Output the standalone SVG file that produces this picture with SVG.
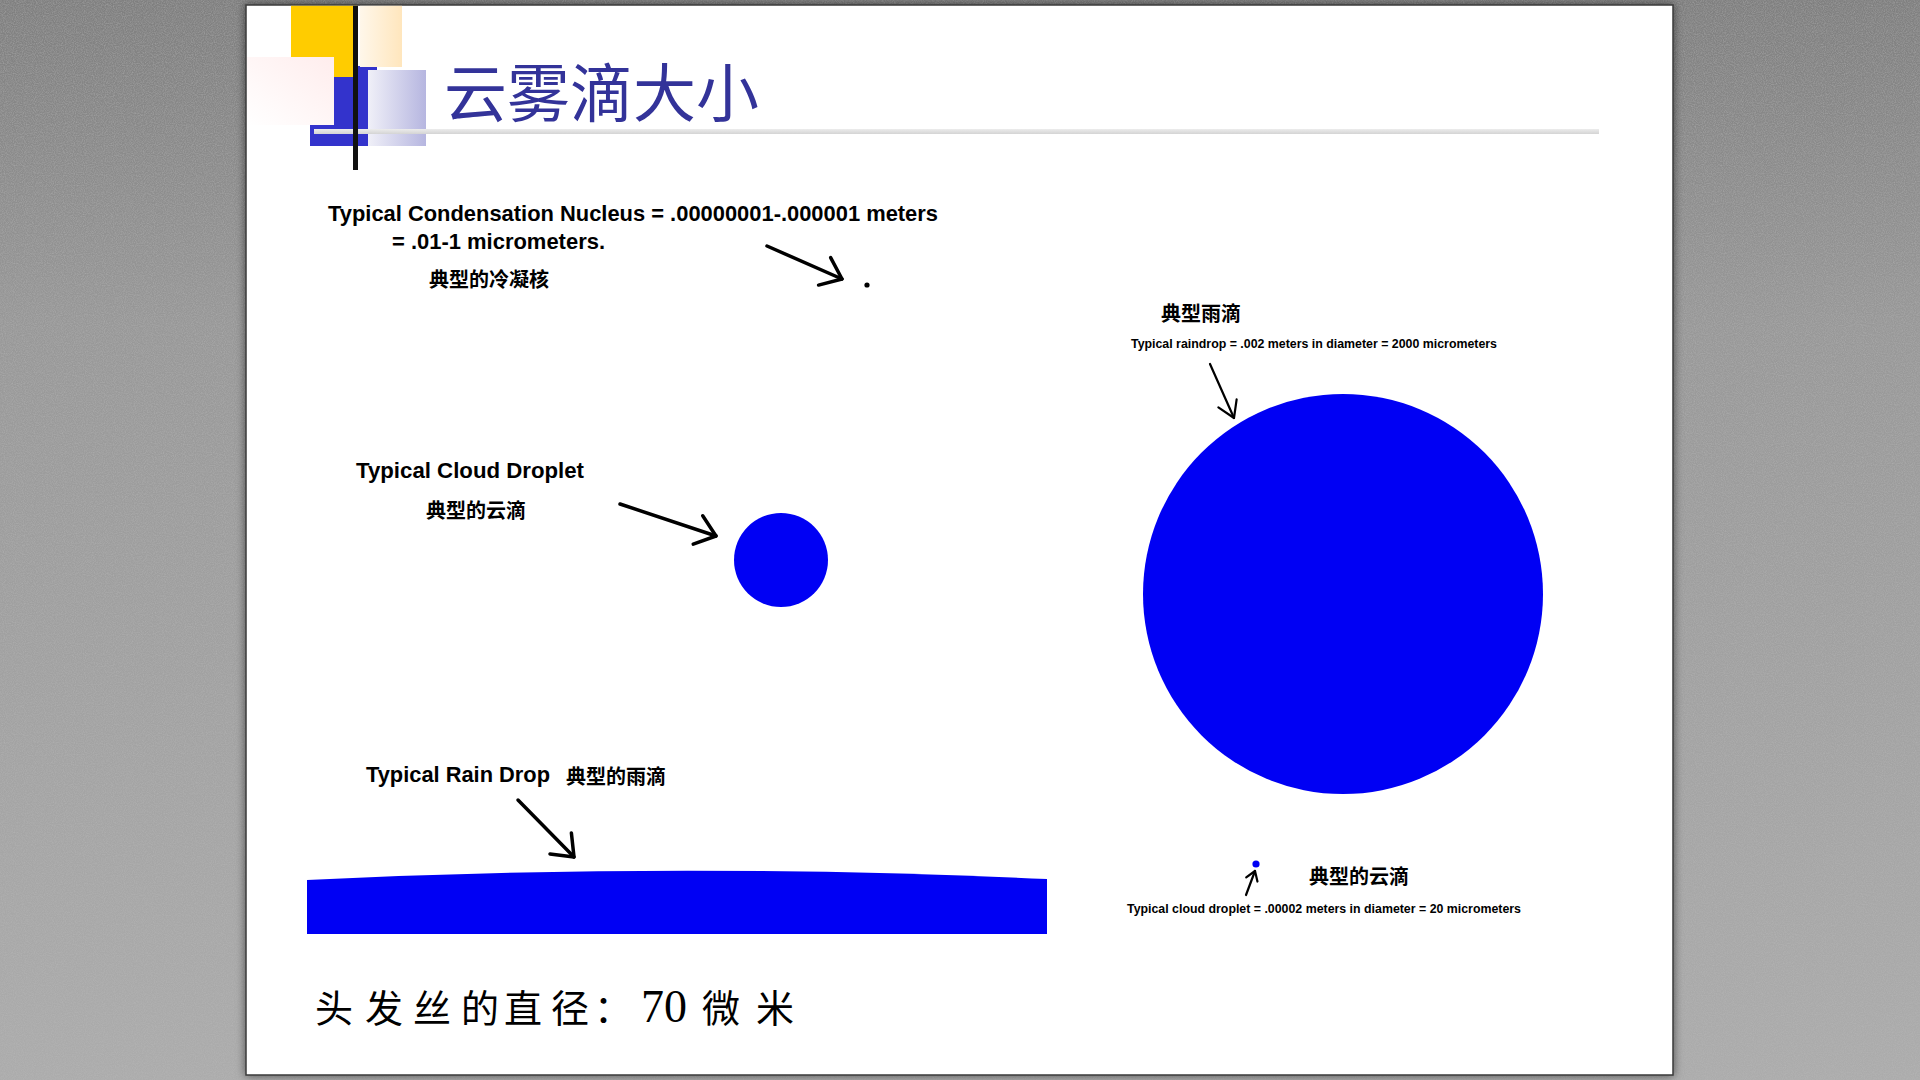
<svg xmlns="http://www.w3.org/2000/svg" width="1920" height="1080" viewBox="0 0 1920 1080">
  <defs>
    <linearGradient id="bg" x1="0" y1="0" x2="0" y2="1">
      <stop offset="0" stop-color="#7f7f7f"/>
      <stop offset="0.3" stop-color="#989898"/>
      <stop offset="1" stop-color="#acacac"/>
    </linearGradient>
    <linearGradient id="peach" x1="0" y1="0" x2="1" y2="0">
      <stop offset="0" stop-color="#fff7ea"/>
      <stop offset="1" stop-color="#ffe6bd"/>
    </linearGradient>
    <linearGradient id="pink" x1="1" y1="0" x2="0" y2="1">
      <stop offset="0" stop-color="#ffeded"/>
      <stop offset="1" stop-color="#ffffff"/>
    </linearGradient>
    <linearGradient id="lavender" x1="0" y1="0" x2="1" y2="0">
      <stop offset="0" stop-color="#f0f0f8"/>
      <stop offset="1" stop-color="#b6b6e0"/>
    </linearGradient>
    <linearGradient id="rule" x1="0" y1="0" x2="0" y2="1">
      <stop offset="0" stop-color="#ececec"/>
      <stop offset="1" stop-color="#d4d4d4"/>
    </linearGradient>
    <filter id="shadow" x="-5%" y="-5%" width="110%" height="110%">
      <feDropShadow dx="0" dy="0" stdDeviation="5" flood-color="#000" flood-opacity="0.55"/>
    </filter>
    <!-- fine grain for the backdrop cloth -->
    <filter id="grain" x="0" y="0" width="100%" height="100%">
      <feTurbulence type="fractalNoise" baseFrequency="0.9" numOctaves="2" seed="3" result="n"/>
      <feColorMatrix in="n" type="matrix" values="0 0 0 0 0.5  0 0 0 0 0.5  0 0 0 0 0.5  0 0 0 1.6 -0.55"/>
    </filter>
    <marker id="head-bold" markerUnits="userSpaceOnUse" orient="auto" refX="0" refY="0" markerWidth="30" markerHeight="40" overflow="visible">
      <path d="M-19,-15 L0,0 L-19,15" fill="none" stroke="#000" stroke-width="3.5" stroke-linecap="round" stroke-linejoin="round"/>
    </marker>
    <marker id="head-thin" markerUnits="userSpaceOnUse" orient="auto" refX="0" refY="0" markerWidth="30" markerHeight="30" overflow="visible">
      <path d="M-16,-10 L0,0 L-16,10" fill="none" stroke="#000" stroke-width="2.2" stroke-linecap="round" stroke-linejoin="round"/>
    </marker>
    <marker id="head-tiny" markerUnits="userSpaceOnUse" orient="auto" refX="0" refY="0" markerWidth="20" markerHeight="20" overflow="visible">
      <path d="M-9,-6 L0,0 L-9,6" fill="none" stroke="#000" stroke-width="2.2" stroke-linecap="round" stroke-linejoin="round"/>
    </marker>
    <style>
      .en { font-family: "Liberation Sans", Arial, sans-serif; font-weight: bold; fill: #000; }
      .cn { font-family: "Noto Sans CJK SC", sans-serif; font-weight: bold; font-size: 20px; fill: #000; }
      .drop { fill: #0000f4; }
      .arrow { fill: none; stroke: #000; stroke-linecap: round; }
      .bold { stroke-width: 3.5; marker-end: url(#head-bold); }
      .thin { stroke-width: 2.2; }
    </style>
  </defs>

  <!-- backdrop and slide page -->
  <rect x="0" y="0" width="1920" height="1080" fill="url(#bg)"/>
  <rect x="0" y="0" width="1920" height="1080" filter="url(#grain)" opacity="0.5"/>
  <rect x="246" y="5" width="1427" height="1070" fill="#ffffff" stroke="#3a3a3a" stroke-width="1.5" filter="url(#shadow)"/>

  <!-- title ornament -->
  <g id="title-ornament">
    <rect x="310" y="66" width="67" height="80" fill="#3333cc"/>
    <rect x="291" y="5.8" width="66" height="71.2" fill="#ffcc00"/>
    <rect x="247" y="57" width="87" height="68" fill="url(#pink)"/>
    <rect x="360" y="5.8" width="42" height="61.2" fill="url(#peach)"/>
    <rect x="368" y="70" width="58" height="76" fill="url(#lavender)"/>
    <rect x="314" y="129" width="1285" height="5" fill="url(#rule)"/>
    <rect x="353" y="5.8" width="5" height="164.2" fill="#111111"/>
  </g>

  <g id="title">
    <text x="444" y="116" font-family="'Liberation Serif', 'Noto Sans CJK SC', serif" font-size="63" fill="#333399">云雾滴大小</text>
  </g>

  <!-- condensation nucleus -->
  <g id="nucleus">
    <text class="en" x="328" y="221" font-size="22" textLength="610" lengthAdjust="spacingAndGlyphs">Typical Condensation Nucleus = .00000001-.000001 meters</text>
    <text class="en" x="392" y="249" font-size="22" textLength="213" lengthAdjust="spacingAndGlyphs">= .01-1 micrometers.</text>
    <text class="cn" x="429" y="287">典型的冷凝核</text>
    <circle cx="867" cy="285" r="2.6" fill="#000"/>
  </g>

  <!-- cloud droplet -->
  <g id="cloud-droplet">
    <text class="en" x="356" y="478" font-size="22" textLength="228" lengthAdjust="spacingAndGlyphs">Typical Cloud Droplet</text>
    <text class="cn" x="426" y="518">典型的云滴</text>
    <circle class="drop" cx="781" cy="560" r="47"/>
  </g>

  <!-- rain drop, shown as a slice of its rim -->
  <g id="rain-drop">
    <text class="en" x="366" y="782" font-size="22" textLength="184" lengthAdjust="spacingAndGlyphs">Typical Rain Drop</text>
    <text class="cn" x="566" y="784">典型的雨滴</text>
    <path class="drop" d="M307,934 L307,880 Q677,862 1047,879 L1047,934 Z"/>
  </g>

  <!-- raindrop at scale -->
  <g id="raindrop-scale">
    <text class="cn" x="1161" y="321">典型雨滴</text>
    <text class="en" x="1131" y="348" font-size="12.5" textLength="366" lengthAdjust="spacingAndGlyphs">Typical raindrop = .002 meters in diameter = 2000 micrometers</text>
    <circle class="drop" cx="1343" cy="594" r="200"/>
  </g>

  <!-- cloud droplet at the same scale -->
  <g id="cloud-droplet-scale">
    <circle class="drop" cx="1256" cy="864" r="3.6"/>
    <text class="cn" x="1309" y="884">典型的云滴</text>
    <text class="en" x="1127" y="913" font-size="12.5" textLength="394" lengthAdjust="spacingAndGlyphs">Typical cloud droplet = .00002 meters in diameter = 20 micrometers</text>
  </g>

  <!-- hair diameter note -->
  <g id="hair-note">
    <text y="1022" font-family="'Liberation Serif', 'Noto Sans CJK SC', serif" font-size="38" fill="#000" x="315 365 413 461 504 551 594">头发丝的直径：<tspan x="641 664" font-size="46">70</tspan><tspan x="690 702 756"> 微米</tspan></text>
  </g>

  <!-- pointer arrows -->
  <g id="connectors">
    <line class="arrow bold" x1="767" y1="246" x2="842" y2="279"/>
    <line class="arrow bold" x1="620" y1="504" x2="716" y2="536"/>
    <line class="arrow bold" x1="518" y1="800" x2="574" y2="857"/>
    <line class="arrow thin" x1="1210" y1="364" x2="1234" y2="418" marker-end="url(#head-thin)"/>
    <line class="arrow thin" x1="1246" y1="895" x2="1255" y2="871" marker-end="url(#head-tiny)"/>
  </g>
</svg>
